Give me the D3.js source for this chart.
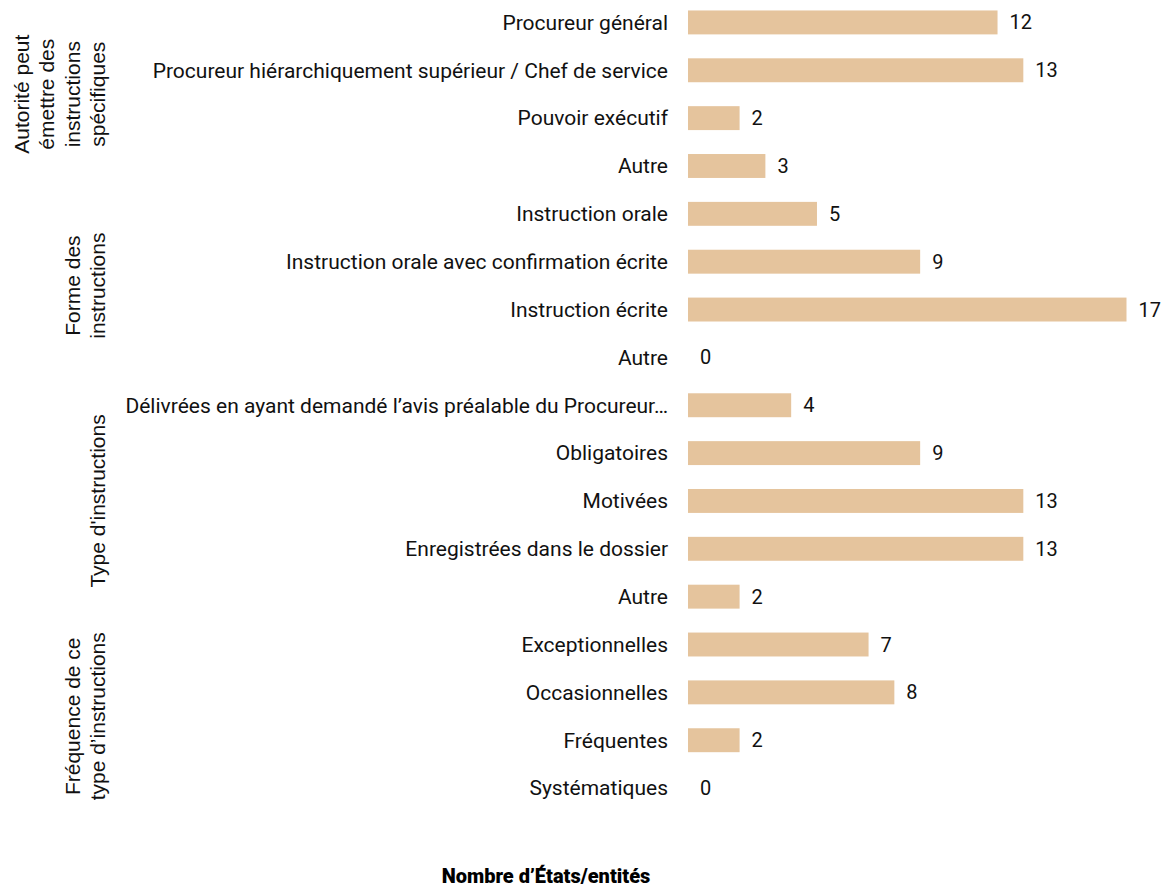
<!DOCTYPE html>
<html>
<head>
<meta charset="utf-8">
<script src="https://cdn.jsdelivr.net/npm/d3@7"></script>
<style>
  body { margin: 0; background: #fff; }
  svg { display: block; }
</style>
</head>
<body>
<svg></svg>
<script>
var width = 1164, height = 887;

// Data
var categories = [
    "Procureur général",
    "Procureur hiérarchiquement supérieur / Chef de service",
    "Pouvoir exécutif",
    "Autre",
    "Instruction orale",
    "Instruction orale avec confirmation écrite",
    "Instruction écrite",
    "Autre ",
    "Délivrées en ayant demandé l’avis préalable du Procureur…",
    "Obligatoires",
    "Motivées",
    "Enregistrées dans le dossier",
    "Autre  ",
    "Exceptionnelles",
    "Occasionnelles",
    "Fréquentes",
    "Systématiques"
];
var values = [12, 13, 2, 3, 5, 9, 17, 0, 4, 9, 13, 13, 2, 7, 8, 2, 0];
var groupLabels = [
    ["Autorité peut", "émettre des", "instructions", "spécifiques"],
    ["Forme des", "instructions"],
    ["Type d'instructions"],
    ["Fréquence de ce", "type d’instructions"]
];
var groupRanges = [[0, 3], [4, 7], [8, 12], [13, 16]];
var xTitle = "Nombre d’États/entités";

var svg = d3.select("svg")
    .attr("width", width)
    .attr("height", height);

var x = d3.scaleLinear()
    .domain([0, 17])
    .range([688, 1126.5]);

var y = d3.scaleBand()
    .domain(d3.range(categories.length))
    .range([-1.5, 812])
    .paddingInner(0.5)
    .paddingOuter(0.25);

var labelFont = "Roboto, 'Liberation Sans', sans-serif";

// bars
svg.append("g")
    .selectAll("rect")
    .data(values)
    .join("rect")
    .attr("x", x(0))
    .attr("y", (d, i) => y(i))
    .attr("width", d => x(d) - x(0))
    .attr("height", y.bandwidth())
    .attr("fill", "#e5c49d");

// value labels
svg.append("g")
    .selectAll("text")
    .data(values)
    .join("text")
    .attr("x", d => x(d) + 12)
    .attr("y", (d, i) => y(i) + y.bandwidth() / 2)
    .attr("dy", "0.35em")
    .style("font-family", labelFont)
    .style("font-size", "20px")
    .attr("fill", "#111")
    .text(d => d);

// category labels
svg.append("g")
    .selectAll("text")
    .data(categories)
    .join("text")
    .attr("x", 668)
    .attr("y", (d, i) => y(i) + y.bandwidth() / 2)
    .attr("dy", "0.35em")
    .attr("text-anchor", "end")
    .style("font-family", labelFont)
    .style("font-size", "21px")
    .attr("fill", "#111")
    .text(d => d.trim());

// group labels (rotated)
groupLabels.forEach(function(lines, gi) {
    var r = groupRanges[gi];
    var cy = (y(r[0]) + y(r[1]) + y.bandwidth()) / 2;
    var n = lines.length;
    var t = svg.append("text")
        .attr("transform", "translate(0," + cy + ") rotate(-90)")
        .attr("text-anchor", "middle")
        .style("font-family", "'Liberation Sans', Arial, sans-serif")
        .style("font-size", "21px")
        .attr("fill", "#111");
    lines.forEach(function(line, li) {
        t.append("tspan")
            .attr("x", 0)
            .attr("y", 105 - (n - 1 - li) * 25.5)
            .text(line);
    });
});

// x axis title
svg.append("text")
    .attr("x", 546)
    .attr("y", 883)
    .attr("text-anchor", "middle")
    .style("font-family", "Roboto, sans-serif")
    .style("font-weight", 900)
    .style("font-size", "20px")
    .attr("fill", "#000")
    .text(xTitle);
</script>
</body>
</html>
